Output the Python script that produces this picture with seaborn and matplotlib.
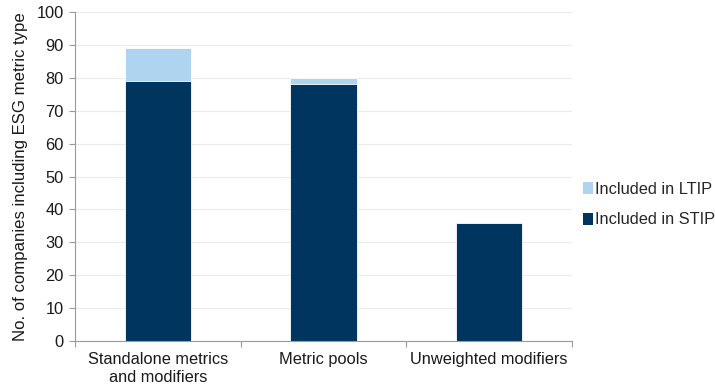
import matplotlib
matplotlib.use("Agg")
import matplotlib.pyplot as plt
from matplotlib.patches import Patch
import seaborn as sns
import pandas as pd

categories = ["Standalone metrics\nand modifiers", "Metric pools", "Unweighted modifiers"]
stip = [79, 78, 36]
ltip = [10, 2, 0]
yticks = [0, 10, 20, 30, 40, 50, 60, 70, 80, 90, 100]

STIP_COLOR = "#00355F"
LTIP_COLOR = "#AED4F0"

sns.set_theme(style="white")
plt.rcParams["font.family"] = ["Liberation Sans", "DejaVu Sans"]

df = pd.DataFrame({
    "category": categories,
    "stip": stip,
    "total": [s + l for s, l in zip(stip, ltip)],
})

fig = plt.figure(figsize=(7.15, 3.88), dpi=100)
ax = fig.add_axes([0.105, 0.121, 0.695, 0.848])

# stacked bars: total (LTIP on top) drawn first, STIP drawn over it
sns.barplot(data=df, x="category", y="total", color=LTIP_COLOR, width=0.4,
            edgecolor="white", linewidth=0.6, saturation=1, ax=ax, zorder=3)
sns.barplot(data=df, x="category", y="stip", color=STIP_COLOR, width=0.4,
            edgecolor="white", linewidth=0.6, saturation=1, ax=ax, zorder=4)

fs = 11.8
ax.set_xlim(-0.5, 2.5)
ax.set_ylim(0, 100)
ax.set_yticks(yticks)
ax.set_yticklabels([str(v) for v in yticks], fontsize=fs, color="#1a1a1a")
ax.set_xticks([0, 1, 2])
ax.set_xticklabels(categories, fontsize=fs, color="#1a1a1a", linespacing=1.2)
ax.set_xlabel("")
ax.set_ylabel("No. of companies including ESG metric type", fontsize=12.1,
              color="#1a1a1a", labelpad=6)

# category-boundary tick marks on the x axis
ax.set_xticks([-0.5, 0.5, 1.5, 2.5], minor=True)
ax.tick_params(axis="x", which="major", length=0, pad=8)
ax.tick_params(axis="x", which="minor", direction="out", length=4,
               width=0.8, color="#9a9a9a", bottom=True)
ax.tick_params(axis="y", direction="out", length=4, width=0.8,
               color="#9a9a9a", left=True, pad=4)

ax.grid(axis="y", color="#ebebeb", linewidth=0.8, zorder=0)
ax.set_axisbelow(True)
for side in ["top", "right"]:
    ax.spines[side].set_visible(False)
for side in ["left", "bottom"]:
    ax.spines[side].set_color("#9a9a9a")
    ax.spines[side].set_linewidth(0.8)
    ax.spines[side].set_zorder(5)

handles = [Patch(facecolor=LTIP_COLOR, edgecolor="none", label="Included in LTIP"),
           Patch(facecolor=STIP_COLOR, edgecolor="none", label="Included in STIP")]
fig.legend(handles=handles, loc="center left", bbox_to_anchor=(0.815, 0.473),
           frameon=False, fontsize=fs, handlelength=0.62, handleheight=0.75,
           handletextpad=0.1, labelspacing=0.95, borderaxespad=0, borderpad=0)

fig.savefig("out.png", dpi=100)
